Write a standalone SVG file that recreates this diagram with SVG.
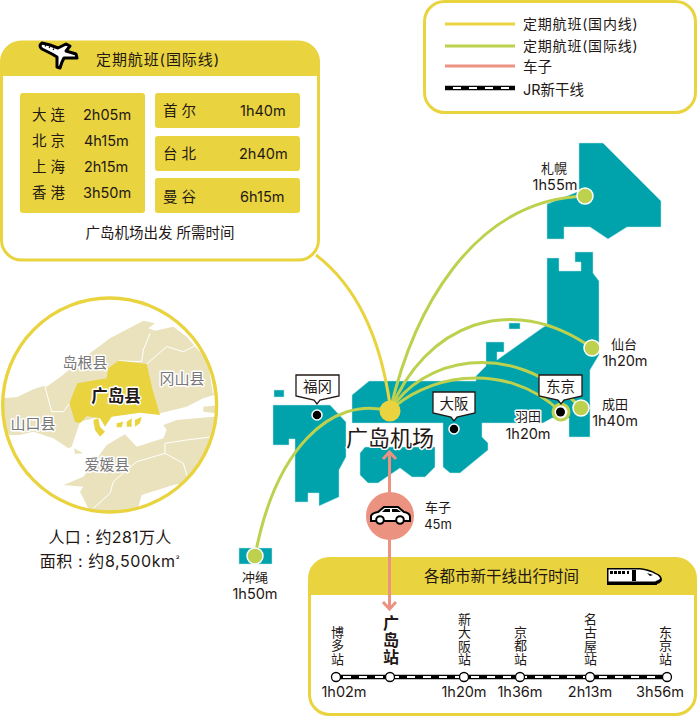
<svg xmlns="http://www.w3.org/2000/svg" width="698" height="717" viewBox="0 0 698 717">
<style>
text{font-family:Inter,"Noto Sans CJK SC",sans-serif;fill:#231815;font-size:14.500px}
.m{text-anchor:middle}
.b{font-weight:700}
.h{paint-order:stroke;stroke:#fff;stroke-width:3px;stroke-linejoin:round}
.pl{fill:#777;font-size:15px}
.c{font-size:13px}
.v{font-size:13px;writing-mode:vertical-rl;letter-spacing:.35px}
.teal{fill:#00a3ac;stroke:#bfe6e8;stroke-width:.5}
.panel{fill:#fff;stroke:#e9d33f;stroke-width:3}
.cell{fill:#e9d33f}
.y{fill:none;stroke:#e9d33f;stroke-width:3}
.g{fill:none;stroke:#bdd14f;stroke-width:3}
.s{fill:none;stroke:#ec9280;stroke-width:3}
.railb{stroke:#000;stroke-width:4.500;fill:none}
.railw{stroke:#fff;stroke-width:2.200;stroke-dasharray:8 8;fill:none}
.st{fill:#fff;stroke:#000;stroke-width:1.300}
.land{fill:#e9e2bd}
.hl{fill:#e9d33f}
.bd{fill:none;stroke:#fff;stroke-width:3}
.call{fill:#fff;stroke:#231815;stroke-width:1.300}
.pt{fill:#000;stroke:#fff;stroke-width:1.500}
.gd{fill:#bdd14f;stroke:#fff;stroke-width:1.500}
</style>
<defs>
<clipPath id="mapclip"><circle cx="329" cy="345" r="321"/></clipPath>
</defs>

<g id="japan-map">
<polygon class="teal" points="579,143 603,143 661,201 661,227 627,227 608,239 590,227 564,227 564,239 547,239 547,204 577,192 579,192"/>
<polygon class="teal" points="547,258 559,258 559,271 581,271 581,262 575,262 575,252 593,252 593,273 599,281 599,355 590,370 590,437 569,437 569,418 552,418 543,423 482,423 482,437 488,443 488,450 460,473 450,473 443,467 443,423 352,423 352,395 369,381 476,381 476,376 486,366 486,342 504,342 504,352 497,352 497,360 542,328 547,325"/>
<polygon class="teal" points="273,405 330,405 346,422 346,457 339,470 339,497 319,506 319,493 308,493 308,502 295,502 295,439 289,439 289,445 273,445"/>
<polygon class="teal" points="365,447 435,447 435,467 425,477 412,477 400,468 378,483 368,483 360,475 360,453"/>
<rect class="teal" x="274" y="390" width="10" height="7"/>
<rect class="teal" x="509" y="323" width="11" height="6"/>
<rect class="teal" x="239" y="548" width="33" height="16"/>
</g>

<g id="node-shinkansen">
<rect class="panel" x="309.500" y="558.500" width="386" height="156" rx="20"/>
<path class="cell" d="M309.500 595V578.500A20 20 0 0 1 329.500 558.500H675.500A20 20 0 0 1 695.500 578.500V595Z"/>
<text x="424" y="582" style="font-size:15.500px">各都市新干线出行时间</text>
<path d="M607 568H640Q650 569 656 573Q662 575 662 580Q661 583 657 584V585H607Z" fill="#000"/>
<path d="M608.500 569.500H640Q650 571 655 574Q660 576 660 579L655 581.500H608.500Z" fill="#fff"/>
<path d="M610 571h3v3h-3zM614 571h3v3h-3zM618 571h3v3h-3zM622 571h3v3h-3zM627 571h2v3h-2zM632 570h4v11h-4zM647 573l6 2l-3 1z" fill="#000"/>
<path class="railb" d="M336 677H667"/>
<path class="railw" d="M343 677H662"/>
<circle class="st" cx="336" cy="677" r="4.500"/>
<circle class="st" cx="390" cy="677" r="4.500"/>
<circle class="st" cx="464" cy="677" r="4.500"/>
<circle class="st" cx="520" cy="677" r="4.500"/>
<circle class="st" cx="590" cy="677" r="4.500"/>
<circle class="st" cx="667" cy="677" r="4.500"/>
<text class="v" x="337" y="625.500">博多站</text>
<text class="v b" x="390" y="615" style="font-size:16px;letter-spacing:1px">广岛站</text>
<text class="v" x="464" y="612.500">新大阪站</text>
<text class="v" x="520" y="625.500">京都站</text>
<text class="v" x="590" y="612.500">名古屋站</text>
<text class="v" x="665" y="625.500">东京站</text>
<text class="m" x="344" y="697">1h02m</text>
<text class="m" x="464" y="697">1h20m</text>
<text class="m" x="520" y="697">1h36m</text>
<text class="m" x="590" y="697">2h13m</text>
<text class="m" x="660" y="697">3h56m</text>
</g>

<g id="connectors">
<path class="y" d="M316 255Q375 300 390 405"/>
<path class="g" d="M390 411C412 315 470 200 585 196"/>
<path class="g" d="M390 411C425 325 510 290 592 348"/>
<path class="g" d="M390 411C420 360 510 335 581 408"/>
<path class="g" d="M390 411C420 380 500 355 561 412"/>
<path class="g" d="M255 556C275 450 330 395 390 411"/>
<path class="s" d="M389.500 453V608"/>
<path class="s" d="M383 459L389.500 452L396 459M383 602L389.500 609L396 602"/>
</g>

<g id="node-hiroshima-airport">
<circle cx="390" cy="411" r="10.500" fill="#e9d33f"/>
<text class="m h" x="390" y="446" style="font-size:22px">广岛机场</text>
</g>
<g id="node-fukuoka">
<path class="call" d="M296 375H339V396L320 400L317 404L314 400L296 396Z"/>
<text class="m" x="317.500" y="392">福冈</text>
<circle class="pt" cx="317" cy="415" r="5"/>
</g>
<g id="node-osaka">
<path class="call" d="M433 392H475V413L457 417L454 421L451 417L433 413Z"/>
<text class="m" x="454" y="409">大阪</text>
<circle class="pt" cx="454" cy="429" r="5"/>
</g>
<g id="node-haneda">
<circle cx="561" cy="412" r="8" fill="#fff" stroke="#bdd14f" stroke-width="3"/>
<circle cx="560.500" cy="412" r="4.500" fill="#000"/>
<text class="m h c" x="528" y="421">羽田</text>
<text class="m h" x="528" y="439">1h20m</text>
</g>
<g id="node-tokyo">
<path class="call" d="M539 375H582V396L564 400L561 404L558 400L539 396Z"/>
<text class="m" x="560.500" y="392">东京</text>
</g>
<g id="node-narita">
<circle class="gd" cx="581" cy="408" r="8"/>
<text class="m c" x="615" y="409">成田</text>
<text class="m" x="615" y="426">1h40m</text>
</g>
<g id="node-sendai">
<circle class="gd" cx="592" cy="348" r="8"/>
<text class="m c" x="624" y="349">仙台</text>
<text class="m" x="625" y="366">1h20m</text>
</g>
<g id="node-sapporo">
<circle class="gd" cx="585" cy="196" r="8"/>
<text class="m c" x="554" y="173">札幌</text>
<text class="m" x="555" y="190">1h55m</text>
</g>
<g id="node-okinawa">
<circle class="gd" cx="255" cy="556" r="8"/>
<text class="m c" x="255" y="582">冲绳</text>
<text class="m" x="255" y="599">1h50m</text>
</g>

<g id="node-car">
<circle cx="390" cy="516" r="24" fill="#ec9280"/>
<path d="M371 521V516Q372 513 378 512L384 507H398L404 512Q410 513 410 517V521Z" fill="#fff" stroke="#000" stroke-width="2"/>
<path d="M385 509H390V512H382ZM392 509H397L401 512H392Z" fill="#000"/>
<circle cx="380" cy="520" r="3.800" fill="#fff" stroke="#000" stroke-width="2"/>
<circle cx="400" cy="520" r="3.800" fill="#fff" stroke="#000" stroke-width="2"/>
<text class="m c" x="438" y="512">车子</text>
<text class="m c" x="438" y="529">45m</text>
</g>

<g id="node-international">
<rect class="panel" x="1.500" y="42" width="317" height="218" rx="20"/>
<path class="cell" d="M1.500 76V62A20 20 0 0 1 21.500 42H298.500A20 20 0 0 1 318.500 62V76Z"/>
<path d="M42 43L50 45L58 48L66 44L70 46L66 51L76 54L77 58L64 58L62 62L60 68L57 67L57 57L52 54L42 49Q38 46 42 43Z" fill="#fff" stroke="#000" stroke-width="3" stroke-linejoin="round"/>
<path d="M45 45.500l1 .5M49 47l1 .5M53 49l1 .5" stroke="#000" stroke-width="1.500" fill="none"/>
<text x="96" y="65" style="font-size:15px;letter-spacing:.9px">定期航班(国际线)</text>
<rect class="cell" x="20" y="93" width="125" height="120" rx="3"/>
<rect class="cell" x="155" y="93" width="145" height="35" rx="3"/>
<rect class="cell" x="155" y="136" width="145" height="35" rx="3"/>
<rect class="cell" x="155" y="178" width="145" height="35" rx="3"/>
<text x="32" y="120">大 连</text><text x="83" y="120">2h05m</text>
<text x="32" y="146">北 京</text><text x="84" y="146">4h15m</text>
<text x="32" y="172">上 海</text><text x="84" y="172">2h15m</text>
<text x="32" y="198">香 港</text><text x="83" y="198">3h50m</text>
<text x="163" y="116">首 尔</text><text x="240" y="116">1h40m</text>
<text x="163" y="159">台 北</text><text x="239" y="159">2h40m</text>
<text x="163" y="202">曼 谷</text><text x="240" y="202">6h15m</text>
<text class="m" x="160" y="238">广岛机场出发 所需时间</text>
</g>

<g id="node-legend">
<rect class="panel" x="424.500" y="1.500" width="271" height="111" rx="20"/>
<path class="y" d="M445 24H515"/>
<path class="g" d="M445 46H515"/>
<path class="s" d="M445 66H515"/>
<path class="railb" d="M445 88H515"/>
<path class="railw" d="M453 88H511"/>
<text x="523" y="29" style="font-size:14px;letter-spacing:.8px">定期航班(国内线)</text>
<text x="523" y="51" style="font-size:14px;letter-spacing:.8px">定期航班(国际线)</text>
<text x="523" y="72">车子</text>
<text x="523" y="95">JR新干线</text>
</g>

<g id="node-prefecture">
<g transform="translate(0,290) scale(.33333)">
<g clip-path="url(#mapclip)">
<polygon class="land" points="0,325 50,322 100,298 130,288 140,290 180,262 250,205 330,145 430,92 465,100 445,115 465,122 520,110 560,140 595,180 660,250 660,310 610,325 560,350 480,370 420,362 330,372 240,395 215,470 205,475 160,445 100,425 60,435 30,435 0,420"/>
<polygon class="land" points="190,585 250,560 270,535 320,465 375,433 410,470 490,445 500,420 490,405 530,390 640,380 660,385 660,520 620,575 570,575 520,585 425,615 415,650 410,670 270,670 260,645 240,605 250,590"/>
<polygon class="land" points="610,350 660,345 660,372 610,365"/>
<polygon class="land" points="222,475 250,490 225,492"/>
<path class="bd" d="M135 290L155 365H190L225 320M355 212L425 215L430 180L450 130M440 222L500 170L550 185L590 165L625 215L640 310M495 460L560 450L640 440M495 460L495 490L410 515L340 575L330 610L280 655M495 490L550 520L565 570"/>
<polygon class="hl" points="355,212 440,222 458,300 480,375 420,368 335,380 315,410 300,385 260,378 240,400 225,395 208,340 232,280 320,265 325,235"/>
<polygon class="hl" points="280,390 295,385 300,410 315,425 300,440 285,420"/>
<polygon class="hl" points="350,400 370,395 365,412 350,412"/>
<polygon class="hl" points="380,395 395,385 395,410 380,410"/>
<polygon class="hl" points="405,390 425,380 420,400 405,410"/>
</g>
<circle cx="329" cy="345" r="321" fill="none" stroke="#e9d33f" stroke-width="10"/>
</g>
<text class="m h pl" x="85" y="368">岛根县</text>
<text class="m h pl" x="182" y="384">冈山县</text>
<text class="m h pl" x="33" y="429">山口县</text>
<text class="m h pl" x="107" y="470">爱媛县</text>
<text class="m b h" x="116" y="402" style="font-size:16.500px">广岛县</text>
<text class="m" x="110" y="543" style="font-size:16px;letter-spacing:.3px">人口 : 约281万人</text>
<text class="m" x="110" y="567" style="font-size:16px;letter-spacing:.6px">面积 : 约8,500km<tspan style="font-size:9px" dy="-4">²</tspan></text>
</g>
</svg>
